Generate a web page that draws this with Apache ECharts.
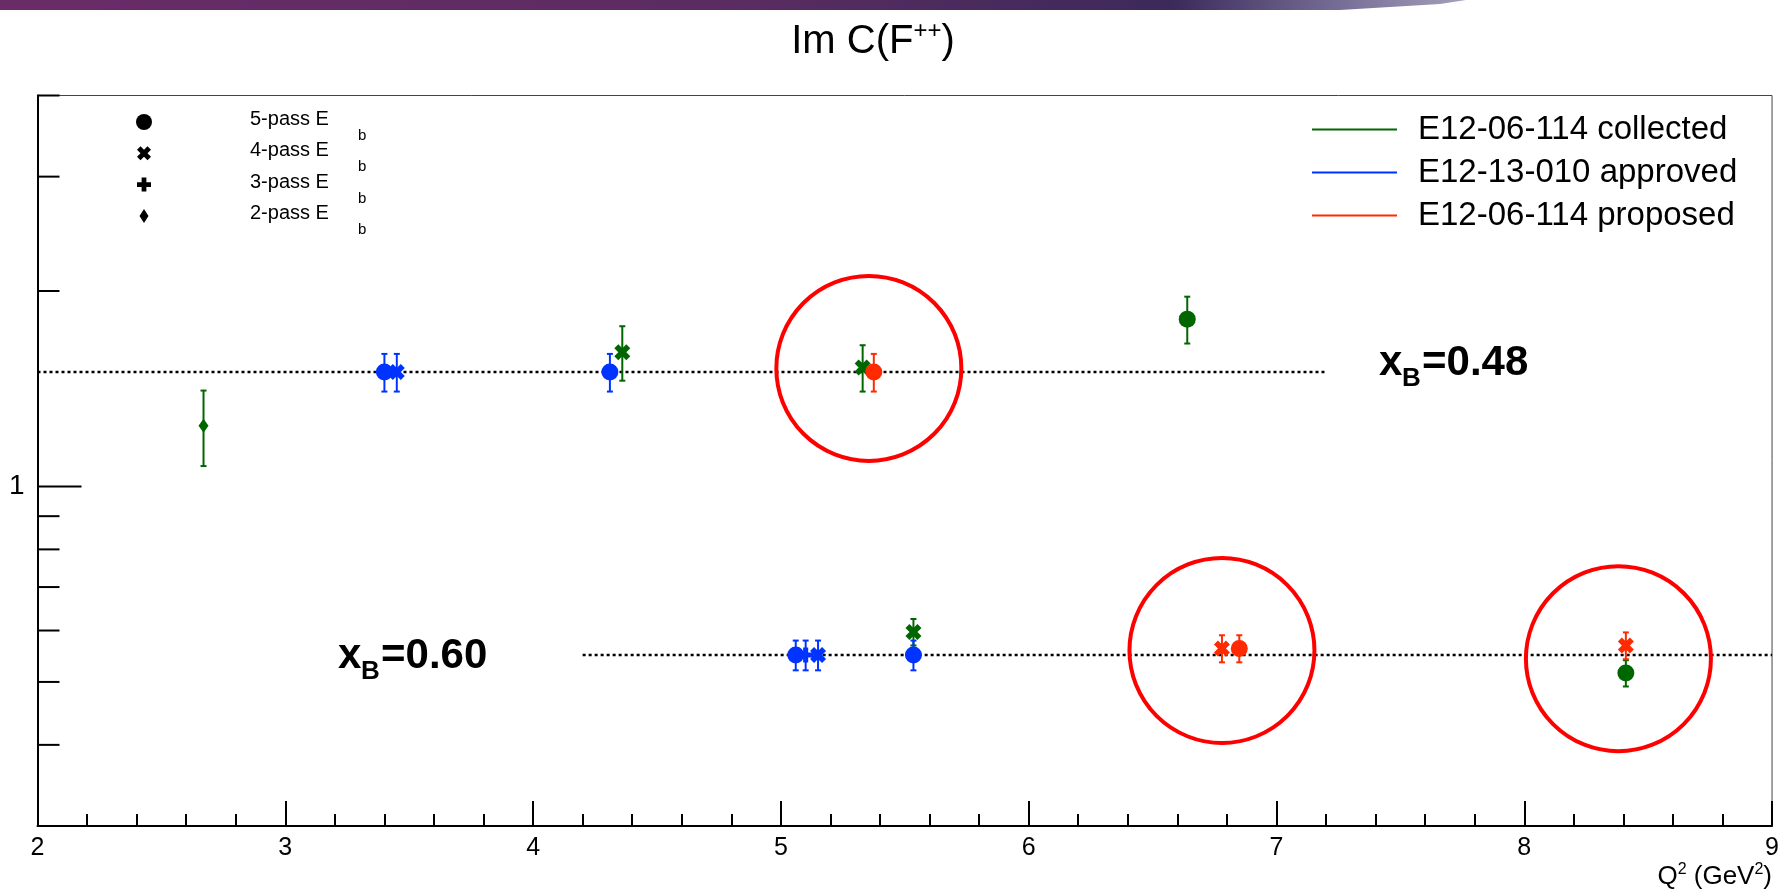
<!DOCTYPE html>
<html>
<head>
<meta charset="utf-8">
<title>Im C(F++)</title>
<script src="https://cdn.jsdelivr.net/npm/echarts@6/dist/echarts.min.js"></script>
<style>
  html, body { margin: 0; padding: 0; background: #fff; }
  #main { width: 1782px; height: 894px; }
</style>
</head>
<body>
<div id="main"></div>
<script>
// --- data ---
// pass: 5 = circle, 4 = cross, 3 = plus, 2 = diamond
var greenQ2   = [2.67, 4.36, 5.33, 6.64, 5.535, 8.41];
var greenVal  = [1.24, 1.61, 1.525, 1.81, 0.597, 0.516];
var greenErr  = [0.165, 0.155, 0.125, 0.15, 0.028, 0.024];
var greenPass = [2, 4, 4, 5, 4, 5];

var blueQ2   = [3.40, 3.45, 4.31, 5.06, 5.10, 5.15, 5.535];
var blueVal  = [1.50, 1.50, 1.50, 0.55, 0.55, 0.55, 0.55];
var blueErr  = [0.10, 0.10, 0.10, 0.029, 0.029, 0.029, 0.029];
var bluePass = [5, 4, 5, 5, 3, 4, 5];

var redQ2   = [5.375, 6.78, 6.85, 8.41];
var redVal  = [1.50, 0.563, 0.563, 0.569];
var redErr  = [0.10, 0.027, 0.027, 0.027];
var redPass = [5, 4, 5, 4];

var seriesNames = ['E12-06-114 collected', 'E12-13-010 approved', 'E12-06-114 proposed'];

// dotted x_B reference lines
var refY    = [1.50, 0.55];
var refFrom = [2, 4.2];
var refTo   = [7.2, 9];

// highlight rings
var ringQ2  = [5.355, 6.78, 8.38];
var ringVal = [1.52, 0.559, 0.543];

// axis ticks
var xMin = 2, xMax = 9;
var yMin = 0.3, yMax = 4;
var yTickMajor = [1];
var yTickMinor = [0.4, 0.5, 0.6, 0.7, 0.8, 0.9, 2, 3, 4];

var passList  = [5, 4, 3, 2];
var passNames = ['5-pass E', '4-pass E', '3-pass E', '2-pass E'];

// --- styling ---
var FONT = "'Liberation Sans', Arial, Helvetica, sans-serif";
var GREEN = '#006600', BLUE = '#0033ff', RED = '#ff2a00';

// marker outlines in a 10x10 box
var crossPts = [[0,2.5],[2.5,0],[5,2.5],[7.5,0],[10,2.5],[7.5,5],[10,7.5],[7.5,10],[5,7.5],[2.5,10],[0,7.5],[2.5,5]];
var plusPts  = [[3.3,0],[6.7,0],[6.7,3.3],[10,3.3],[10,6.7],[6.7,6.7],[6.7,10],[3.3,10],[3.3,6.7],[0,6.7],[0,3.3],[3.3,3.3]];

function toPath(pts) {
  return 'path://M' + pts.map(function (p) { return p[0] + ',' + p[1]; }).join(' L') + ' Z';
}
var passSymbol = { 5: 'circle', 4: toPath(crossPts), 3: toPath(plusPts), 2: 'diamond' };
var passSize   = { 5: 17, 4: 16, 3: 15, 2: [10, 14] };

function points(q2, val, pass) {
  return q2.map(function (x, i) {
    return { value: [x, val[i]], symbol: passSymbol[pass[i]], symbolSize: passSize[pass[i]] };
  });
}
function errData(q2, val, err) {
  return q2.map(function (x, i) { return [x, val[i], err[i]]; });
}
function errRender(color) {
  return function (params, api) {
    var x = api.value(0), v = api.value(1), e = api.value(2);
    var top = api.coord([x, v + e]);
    var bot = api.coord([x, v - e]);
    var st = { stroke: color, lineWidth: 2 };
    var c = 3;
    return { type: 'group', children: [
      { type: 'line', shape: { x1: top[0], y1: top[1], x2: bot[0], y2: bot[1] }, style: st },
      { type: 'line', shape: { x1: top[0] - c, y1: top[1], x2: top[0] + c, y2: top[1] }, style: st },
      { type: 'line', shape: { x1: bot[0] - c, y1: bot[1], x2: bot[0] + c, y2: bot[1] }, style: st }
    ]};
  };
}
function tickRender(len) {
  return function (params, api) {
    var p = api.coord([api.value(0), api.value(1)]);
    return { type: 'line', shape: { x1: p[0], y1: p[1], x2: p[0] + len, y2: p[1] },
             style: { stroke: '#000', lineWidth: 2 } };
  };
}

var series = [];
refY.forEach(function (y, i) {
  series.push({
    type: 'line', name: 'ref' + i, silent: true, symbol: 'none', z: 1,
    data: [[refFrom[i], y], [refTo[i], y]],
    lineStyle: { color: '#000', width: 2.5, type: [3, 3] }
  });
});
series.push({
  type: 'scatter', name: 'rings', silent: true, z: 2,
  data: ringQ2.map(function (x, i) { return [x, ringVal[i]]; }),
  symbol: 'circle', symbolSize: 185,
  itemStyle: { color: 'rgba(0,0,0,0)', borderColor: '#ff0000', borderWidth: 4, opacity: 1 }
});
[[greenQ2, greenVal, greenErr, greenPass, GREEN],
 [blueQ2, blueVal, blueErr, bluePass, BLUE],
 [redQ2, redVal, redErr, redPass, RED]].forEach(function (s, k) {
  series.push({
    type: 'custom', name: 'err' + k, z: 3, silent: true,
    encode: { x: 0, y: 1 },
    data: errData(s[0], s[1], s[2]),
    renderItem: errRender(s[4])
  });
  series.push({
    type: 'scatter', name: seriesNames[k], z: 3,
    data: points(s[0], s[1], s[3]),
    itemStyle: { color: s[4], opacity: 1 }
  });
});
series.push({
  type: 'custom', name: 'yMajor', z: 6, silent: true, encode: { x: 0, y: 1 },
  data: yTickMajor.map(function (v) { return [xMin, v]; }), renderItem: tickRender(44)
});
series.push({
  type: 'custom', name: 'yMinor', z: 6, silent: true, encode: { x: 0, y: 1 },
  data: yTickMinor.map(function (v) { return [xMin, v]; }), renderItem: tickRender(22)
});

// left marker key (black)
var keyX = 144, keyY0 = 122, keyStep = 31.3;
var keyGraphics = [];
passList.forEach(function (p, i) {
  var cy = keyY0 + i * keyStep;
  var mark;
  if (p === 5) {
    mark = { type: 'circle', shape: { cx: keyX, cy: cy, r: 8 } };
  } else if (p === 2) {
    mark = { type: 'polygon', shape: { points: [[keyX, cy - 7], [keyX + 4.5, cy], [keyX, cy + 7], [keyX - 4.5, cy]] } };
  } else {
    var pts = p === 4 ? crossPts : plusPts;
    var sz = 14;
    mark = { type: 'polygon', shape: { points: pts.map(function (q) {
      return [keyX - sz / 2 + q[0] * sz / 10, cy - sz / 2 + q[1] * sz / 10];
    }) } };
  }
  mark.style = { fill: '#000' };
  keyGraphics.push(mark);
  keyGraphics.push({ type: 'text', x: 250, y: cy - 2.5,
    style: { text: passNames[i], font: '20px ' + FONT, fill: '#000', verticalAlign: 'middle' } });
  keyGraphics.push({ type: 'text', x: 358, y: cy + 14,
    style: { text: 'b', font: '15px ' + FONT, fill: '#000', verticalAlign: 'middle' } });
});

function xbLabel(x, y, txt) {
  return [
    { type: 'text', x: x, y: y, style: { text: 'x', font: 'bold 42px ' + FONT, fill: '#000', verticalAlign: 'middle' } },
    { type: 'text', x: x + 23, y: y + 16, style: { text: 'B', font: 'bold 26px ' + FONT, fill: '#000', verticalAlign: 'middle' } },
    { type: 'text', x: x + 43, y: y, style: { text: txt, font: 'bold 42px ' + FONT, fill: '#000', verticalAlign: 'middle' } }
  ];
}

var graphics = [
  { type: 'polygon', silent: true,
    shape: { points: [[0, 0], [1466, 0], [1440, 4], [1340, 10], [0, 10]] },
    style: { fill: new echarts.graphic.LinearGradient(0, 0, 1, 0, [
      { offset: 0, color: '#6a2c68' },
      { offset: 0.5, color: '#5a2c62' },
      { offset: 0.8, color: '#3c2a58' },
      { offset: 0.9, color: '#6f6690' },
      { offset: 1, color: '#a59fba' }
    ]) } },
  { type: 'text', x: 873, y: 42,
    style: { text: '{a|Im C(F}{s|++}{a|)}', align: 'center', verticalAlign: 'middle',
      rich: { a: { fontSize: 40, fontFamily: FONT, lineHeight: 46, fill: '#000' },
              s: { fontSize: 24, fontFamily: FONT, lineHeight: 24, verticalAlign: 'top', fill: '#000' } } } },
  { type: 'text', x: 1772, y: 877,
    style: { text: '{a|Q}{s|2}{a| (GeV}{s|2}{a|)}', align: 'right', verticalAlign: 'middle',
      rich: { a: { fontSize: 26, fontFamily: FONT, lineHeight: 30, fill: '#000' },
              s: { fontSize: 16, fontFamily: FONT, lineHeight: 16, verticalAlign: 'top', fill: '#000' } } } }
].concat(keyGraphics, xbLabel(1379, 363, '=0.48'), xbLabel(338, 656, '=0.60'));

var chart = echarts.init(document.getElementById('main'));
chart.setOption({
  animation: false,
  backgroundColor: '#fff',
  grid: { left: 37.5, right: 9, top: 95.5, bottom: 68, show: true, borderColor: '#444', borderWidth: 1 },
  legend: {
    data: seriesNames, orient: 'vertical', left: 1307, top: 108,
    icon: 'rect', itemWidth: 85, itemHeight: 2, itemGap: 10,
    selectedMode: false,
    textStyle: { fontSize: 33, fontFamily: FONT, color: '#000', padding: [0, 0, 0, 16] }
  },
  xAxis: {
    type: 'value', min: xMin, max: xMax, interval: 1,
    axisLine: { show: true, lineStyle: { color: '#000', width: 2 } },
    axisTick: { show: true, inside: true, length: 25, lineStyle: { color: '#000', width: 2 } },
    minorTick: { show: true, splitNumber: 5, length: 12, lineStyle: { color: '#000', width: 2 } },
    axisLabel: { fontSize: 25, fontFamily: FONT, color: '#000', margin: 10 },
    splitLine: { show: false }
  },
  yAxis: {
    type: 'log', logBase: 10, min: yMin, max: yMax,
    axisLine: { show: true, lineStyle: { color: '#000', width: 2 } },
    axisTick: { show: false },
    axisLabel: {
      fontSize: 28, fontFamily: FONT, color: '#000', margin: 13,
      showMinLabel: false, showMaxLabel: false,
      formatter: function (v) { return Math.abs(v - 1) < 1e-9 ? '1' : ''; }
    },
    splitLine: { show: false }
  },
  graphic: graphics,
  series: series
});
</script>
</body>
</html>
